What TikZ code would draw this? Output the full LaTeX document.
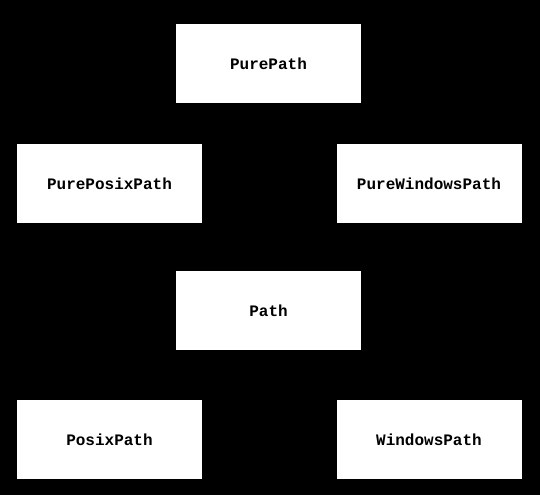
\documentclass[tikz,border=0pt]{standalone}
\usepackage{fontspec}
\setmonofont{Liberation Mono}
\usetikzlibrary{positioning,arrows.meta}

\begin{document}
\begin{tikzpicture}[
  x=1pt, y=1pt,
  classbox/.style={
    draw=black, fill=white, line width=1pt,
    text centered, minimum width=186pt, minimum height=80pt,
    inner sep=0pt, font=\fontsize{16}{19}\selectfont\ttfamily\bfseries
  },
  inherit/.style={black, line width=1pt, -{Stealth[length=8pt,width=6pt]}},
]

%% Background (fixes the page size)
\fill[black] (0,0) rectangle (540,495);
\useasboundingbox (0,0) rectangle (540,495);

%% Top row
\node[classbox] (purepath) at (268.5,431.5) {PurePath};

%% Pure flavours
\node[classbox] (pureposix) at (109.5,311.5) {PurePosixPath};
\node[classbox] (purewin)   at (429,  311.5) {PureWindowsPath};

%% Concrete base
\node[classbox] (path) at (268.5,184.5) {Path};

%% Concrete flavours
\node[classbox] (posix) at (109.5,55.5) {PosixPath};
\node[classbox] (win)   at (429,  55.5) {WindowsPath};

%% Inheritance arrows (black on black)
\draw[inherit] (pureposix.north east) -- (purepath.south west);
\draw[inherit] (purewin.north west)   -- (purepath.south east);
\draw[inherit] (path.north)           -- (purepath.south);

\draw[inherit] (posix.north east) -- (path.south west);
\draw[inherit] (win.north west)   -- (path.south east);

\draw[inherit] (posix.north west) ++(49,0) coordinate (posixtop) -- (posixtop |- pureposix.south);
\draw[inherit] (win.north east) ++(-54,0) coordinate (wintop) -- (wintop |- purewin.south);

\end{tikzpicture}
\end{document}
